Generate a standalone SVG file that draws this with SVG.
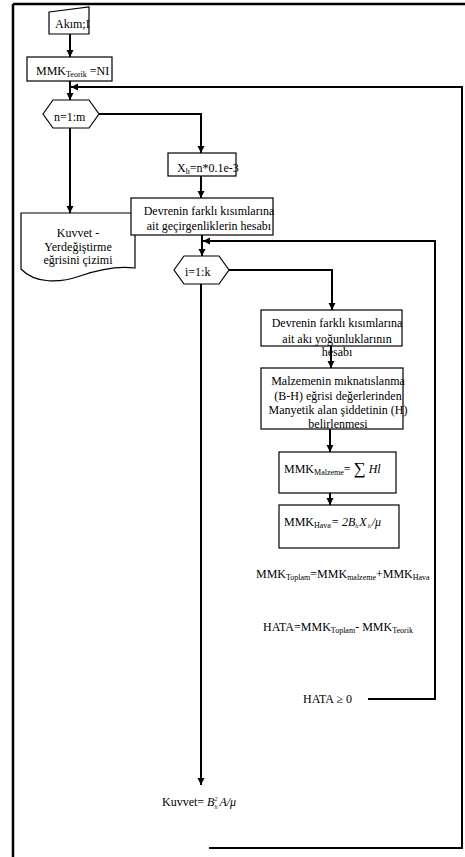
<svg xmlns="http://www.w3.org/2000/svg" width="465" height="857" viewBox="0 0 465 857">
<defs>
<marker id="ah" viewBox="0 0 10 10" refX="10" refY="5" markerWidth="7" markerHeight="8" markerUnits="userSpaceOnUse" orient="auto">
<path d="M0,0 L10,5 L0,10 z" fill="#000"/>
</marker>
<style>
.shape{fill:#fff;stroke:#000;stroke-width:1.2}
.c{fill:none;stroke:#000;stroke-width:2}
.a{marker-end:url(#ah)}
text{font-family:"Liberation Serif","Times New Roman",serif;font-size:12px;fill:#000}
.sub{font-size:8px}
.it{font-style:italic}
.mid{text-anchor:middle}
</style>
</defs>
<rect width="465" height="857" fill="#fff"/>
<g id="frame">
<path d="M13,4 H465 M13,4 V857" fill="none" stroke="#000" stroke-width="2.5"/>
</g>
<g id="connectors">
<path class="c a" d="M70,34 V57"/>
<path class="c a" d="M70,81 V100"/>
<path class="c a" d="M209,848 H462 V87 H71"/>
<path class="c a" d="M99,114 H201 V153"/>
<path class="c a" d="M201,176 V198"/>
<path class="c a" d="M70,128 V213"/>
<path class="c a" d="M202,235 V256"/>
<path class="c a" d="M368,699 H435 V241 H203"/>
<path class="c a" d="M229,270 H332 V310"/>
<path class="c a" d="M201,284 V785"/>
<path class="c a" d="M331,346 V368"/>
<path class="c a" d="M330,429 V452"/>
<path class="c a" d="M330,483 V505"/>
</g>
<g id="akim">
<path class="shape" d="M49,12 L89,7 V34 H49 Z"/>
<text x="55" y="28">Akım;I</text>
</g>
<g id="mmk-teorik">
<rect class="shape" x="27" y="57" width="85" height="24"/>
<text x="36" y="75">MMK<tspan class="sub" dy="1.5">Teorik</tspan><tspan dy="-1.5"> =NI</tspan></text>
</g>
<g id="loop-n">
<path class="shape" d="M43,114 L53,100 H89 L99,114 L89,128 H53 Z"/>
<text x="54" y="121">n=1:m</text>
</g>
<g id="xh">
<rect class="shape" x="168" y="153" width="68" height="23"/>
<text x="177" y="172">X<tspan class="sub" dy="1.5">h</tspan><tspan dy="-1.5">=n*0.1e-3</tspan></text>
</g>
<g id="kuvvet-doc">
<path class="shape" d="M21,213 H135 V268 C120,266 100,269 80,276 C60,283 35,284 21,269 Z"/>
<text class="mid" x="78" y="237">Kuvvet -</text>
<text class="mid" x="78" y="251">Yerdeğiştirme</text>
<text class="mid" x="78" y="264">eğrisini çizimi</text>
</g>
<g id="gecirgenlik">
<rect class="shape" x="131" y="198" width="142" height="37"/>
<text class="mid" x="209" y="215">Devrenin farklı kısımlarına</text>
<text class="mid" x="209" y="230">ait geçirgenliklerin hesabı</text>
</g>
<g id="loop-i">
<path class="shape" d="M174,270 L184,256 H219 L229,270 L219,284 H184 Z"/>
<text x="185" y="276">i=1:k</text>
</g>
<g id="aki">
<rect class="shape" x="261" y="310" width="141" height="36"/>
<text class="mid" x="337" y="327">Devrenin farklı kısımlarına</text>
<text class="mid" x="337" y="343">ait akı yoğunluklarının</text>
<text class="mid" x="337" y="356">hesabı</text>
</g>
<g id="malzeme-bh">
<rect class="shape" x="261" y="368" width="142" height="61"/>
<text class="mid" x="338" y="385">Malzemenin mıknatıslanma</text>
<text class="mid" x="338" y="400">(B-H) eğrisi değerlerinden</text>
<text class="mid" x="338" y="414">Manyetik alan şiddetinin (H)</text>
<text class="mid" x="338" y="428">belirlenmesi</text>
</g>
<g id="mmk-malzeme">
<rect class="shape" x="279" y="452" width="117" height="41"/>
<text x="284" y="473">MMK<tspan class="sub" dy="1.5">Malzeme</tspan><tspan dy="-1.5">= </tspan><tspan font-size="17" dy="1">∑</tspan><tspan class="it" dy="-1"> Hl</tspan></text>
</g>
<g id="mmk-hava">
<rect class="shape" x="279" y="505" width="120" height="43"/>
<text x="284" y="526">MMK<tspan class="sub" dy="1.5">Hava</tspan><tspan dy="-1.5" class="it">= 2B</tspan><tspan font-size="6" class="it" dy="2">h</tspan><tspan class="it" dx="1" dy="-2">X</tspan><tspan font-size="6" class="it" dx="1" dy="2">h</tspan><tspan class="it" dx="1" dy="-2">/μ</tspan></text>
</g>
<g id="mmk-toplam">
<text x="256" y="578">MMK<tspan class="sub" dy="1.5">Toplam</tspan><tspan dy="-1.5">=MMK</tspan><tspan class="sub" dy="1.5">malzeme</tspan><tspan dy="-1.5">+MMK</tspan><tspan class="sub" dy="1.5">Hava</tspan></text>
</g>
<g id="hata">
<text x="263" y="631">HATA=MMK<tspan class="sub" dy="1.5">Toplam</tspan><tspan dy="-1.5">- MMK</tspan><tspan class="sub" dy="1.5">Teorik</tspan></text>
</g>
<g id="hata-kosul">
<text x="303" y="703">HATA ≥ 0</text>
</g>
<g id="kuvvet">
<text x="162" y="806">Kuvvet= <tspan class="it">B</tspan><tspan font-size="6" class="it" dy="-5">2</tspan><tspan font-size="6" class="it" dx="-3" dy="8">h</tspan><tspan class="it" dx="2" dy="-3">A/μ</tspan></text>
</g>
</svg>
